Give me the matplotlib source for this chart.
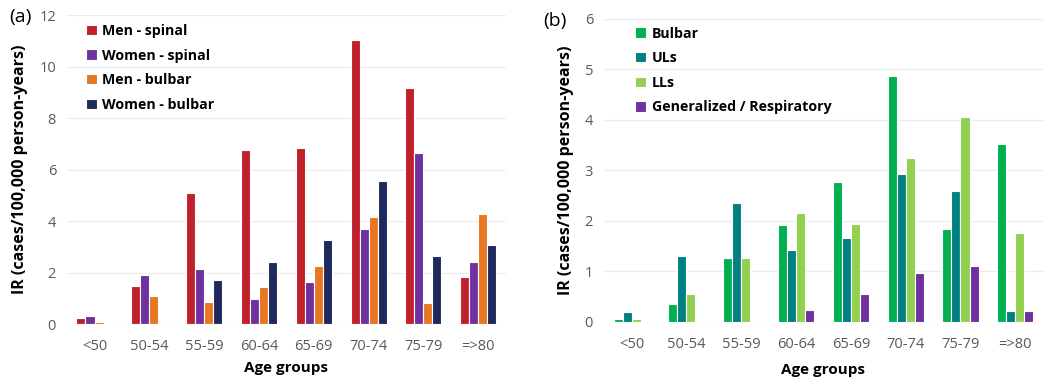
import numpy as np
import matplotlib.pyplot as plt

plt.rcParams['font.family'] = ['Open Sans', 'DejaVu Sans']

groups = ['<50', '50-54', '55-59', '60-64', '65-69', '70-74', '75-79', '=>80']

# panel (a)
men_spinal = [0.25, 1.49, 5.10, 6.75, 6.83, 11.05, 9.18, 1.83]
women_spinal = [0.31, 1.92, 2.15, 0.96, 1.62, 3.70, 6.64, 2.41]
men_bulbar = [0.09, 1.10, 0.86, 1.45, 2.27, 4.15, 0.83, 4.29]
women_bulbar = [0.04, 0.0, 1.72, 2.40, 3.25, 5.55, 2.65, 3.09]

# panel (b)
bulbar = [0.05, 0.36, 1.27, 1.91, 2.77, 4.87, 1.84, 3.51]
uls = [0.20, 1.30, 2.35, 1.43, 1.66, 2.92, 2.58, 0.21]
lls = [0.05, 0.55, 1.27, 2.15, 1.94, 3.24, 4.05, 1.75]
gen_resp = [0.0, 0.0, 0.0, 0.23, 0.55, 0.96, 1.10, 0.21]

fig = plt.figure(figsize=(10.49, 3.8), dpi=100)
ax1 = fig.add_axes([0.064, 0.147, 0.418, 0.813])
ax2 = fig.add_axes([0.576, 0.153, 0.418, 0.798])

def draw(ax, series, labels, colors, ymax, step, legx, legy, xlpad):
    x = np.arange(len(groups))
    w = 0.165
    for i, (vals, lab, col) in enumerate(zip(series, labels, colors)):
        ax.bar(x + (i - 1.5) * w, vals, width=w, color=col, edgecolor='white',
               linewidth=0.8, label=lab, zorder=3)
    ax.set_xlim(-0.5, len(groups) - 0.5)
    ax.set_ylim(0, ymax)
    ax.set_yticks(np.arange(0, ymax + 0.01, step))
    ax.set_xticks(x)
    ax.set_xticklabels(groups)
    ax.grid(axis='y', color='#ececec', linewidth=0.8, zorder=0)
    for s in ax.spines.values():
        s.set_visible(False)
    ax.tick_params(axis='y', length=0, labelsize=10.5, labelcolor='#595959', pad=8)
    ax.tick_params(axis='x', length=0, labelsize=10.5, labelcolor='#595959', pad=11)
    ax.set_xlabel('Age groups', fontsize=11, fontweight='bold', labelpad=xlpad)
    ax.set_ylabel('IR (cases/100,000 person-years)', fontsize=11.5,
                  fontweight='bold', labelpad=8)
    ax.legend(loc='upper left', bbox_to_anchor=(legx, legy), frameon=False,
              handlelength=0.75, handleheight=0.75, handletextpad=0.4,
              labelspacing=0.75, prop={'weight': 'bold', 'size': 10.2})

draw(ax1, [men_spinal, women_spinal, men_bulbar, women_bulbar],
     ['Men - spinal', 'Women - spinal', 'Men - bulbar', 'Women - bulbar'],
     ['#C0202A', '#7030A0', '#E87722', '#1F2A5C'], 12, 2, 0.014, 1.013, 5)
draw(ax2, [bulbar, uls, lls, gen_resp],
     ['Bulbar', 'ULs', 'LLs', 'Generalized / Respiratory'],
     ['#00B050', '#008080', '#92D050', '#7030A0'], 6, 1, 0.042, 1.016, 8)

fig.text(0.009, 0.955, '(a)', fontsize=14, va='center')
fig.text(0.518, 0.945, '(b)', fontsize=14, va='center')

fig.savefig('out.png', dpi=100)
